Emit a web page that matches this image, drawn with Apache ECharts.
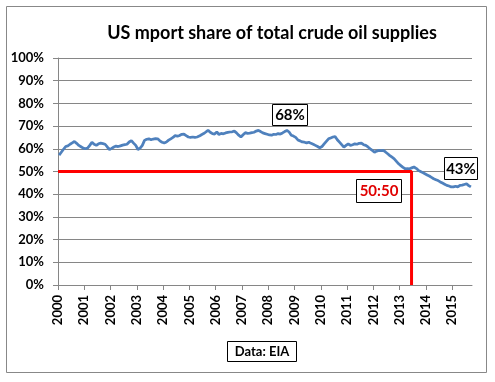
<!DOCTYPE html>
<html>
<head>
<meta charset="utf-8">
<script src="https://cdn.jsdelivr.net/npm/echarts@6/dist/echarts.min.js"></script>
<style>
html,body{margin:0;padding:0;background:#fff;}
#c{width:495px;height:382px;}
</style>
</head>
<body>
<div id="c"></div>
<script>
// ---- data ----
const startYear = 2000;
const yearTicks = [2000,2001,2002,2003,2004,2005,2006,2007,2008,2009,2010,2011,2012,2013,2014,2015];
// monthly import share (%), Jan 2000 .. Sep 2015
const share2000 = [57.2,58.5,59.8,61.0,61.3,62.0,62.6,63.2,62.4,61.5,60.9,60.3];
const share2001 = [60.0,60.3,61.5,62.9,62.0,61.5,62.2,62.5,62.3,62.0,60.8,59.7];
const share2002 = [60.2,60.8,61.2,61.0,61.3,61.6,61.8,62.0,63.0,63.6,62.5,61.5];
const share2003 = [59.7,60.3,61.5,63.7,64.2,64.4,64.0,64.3,64.5,64.4,63.5,62.9];
const share2004 = [62.6,63.0,63.8,64.4,65.0,65.9,65.5,65.9,66.4,66.5,65.8,65.2];
const share2005 = [65.0,65.2,65.0,65.2,65.6,66.2,66.7,67.4,68.2,67.3,66.7,66.5];
const share2006 = [67.4,66.3,66.8,66.6,67.0,67.2,67.4,67.5,67.8,67.0,66.0,65.2];
const share2007 = [66.2,67.1,66.8,66.9,67.1,67.3,67.8,68.1,67.6,67.0,66.7,66.4];
const share2008 = [66.1,66.0,66.4,66.3,66.7,66.5,67.0,67.6,68.1,67.4,66.0,65.6];
const share2009 = [65.0,63.9,63.5,63.0,62.9,62.6,62.9,62.4,62.0,61.5,61.0,60.4];
const share2010 = [61.0,62.2,63.3,64.4,64.8,65.2,65.4,64.0,62.9,61.8,60.7,61.5];
const share2011 = [62.2,61.5,61.8,62.2,62.0,62.4,62.5,61.8,61.5,60.8,60.0,59.3];
const share2012 = [58.5,59.0,59.3,59.2,59.3,58.6,57.8,57.0,56.3,55.6,54.5,53.4];
const share2013 = [52.6,51.8,51.2,51.3,51.2,51.6,52.0,51.4,50.5,50.0,49.5,49.0];
const share2014 = [48.5,48.0,47.4,46.8,46.4,46.0,45.4,44.9,44.4,43.9,43.6,43.2];
const share2015 = [43.2,43.5,43.2,43.9,44.0,44.3,44.6,43.8,43.2];
const parityLevel = 50;       // 50:50 line
const crossoverYear = 2013.45; // where share fell below 50%

const monthly = [].concat(share2000,share2001,share2002,share2003,share2004,share2005,
  share2006,share2007,share2008,share2009,share2010,share2011,share2012,share2013,share2014,share2015);
const seriesData = monthly.map((v,i)=>[startYear + (i+0.5)/12, v]);
const axisMax = startYear + monthly.length/12;

const FONT = 'Lato';
const chart = echarts.init(document.getElementById('c'), null, {renderer:'canvas'});
chart.setOption({
  animation:false,
  backgroundColor:'#fff',
  title:{
    text:'US mport share of total crude oil supplies',
    left:267, top:19, textAlign:'center',
    textStyle:{fontFamily:FONT,fontWeight:'bold',fontSize:18,color:'#000'}
  },
  grid:{left:58, top:58, right:23, bottom:97, containLabel:false},
  xAxis:{
    type:'value', min:startYear, max:axisMax,
    axisLine:{show:true,onZero:false,lineStyle:{color:'#868686',width:1}},
    axisTick:{show:true,length:5,customValues:yearTicks,lineStyle:{color:'#868686'}},
    axisLabel:{customValues:yearTicks,rotate:90,margin:10,color:'#000',
      fontFamily:FONT,fontWeight:'bold',fontSize:13,formatter:v=>String(v)},
    splitLine:{show:false}
  },
  yAxis:{
    type:'value', min:0, max:100, interval:10,
    axisLine:{show:true,lineStyle:{color:'#868686',width:1}},
    axisTick:{show:true,length:5,lineStyle:{color:'#868686'}},
    axisLabel:{formatter:'{value}%',margin:14,color:'#000',fontFamily:FONT,fontWeight:'bold',fontSize:13},
    splitLine:{show:true,lineStyle:{color:'#868686',width:1}}
  },
  series:[
    {
      type:'line', data:seriesData, showSymbol:false, symbol:'none',
      lineStyle:{color:'#4f81bd',width:2.75}, z:3
    },
    {
      type:'line', data:[[startYear,parityLevel],[crossoverYear,parityLevel],[crossoverYear,0]],
      showSymbol:false, symbol:'none', lineStyle:{color:'#ff0000',width:3}, z:4
    }
  ],
  graphic:[
    {type:'rect',shape:{x:6.5,y:6.5,width:480,height:366},style:{fill:null,stroke:'#888',lineWidth:1},silent:true},
    {type:'rect',shape:{x:272.5,y:104.5,width:35,height:21},style:{fill:'#fff',stroke:'#000',lineWidth:1},z:10},
    {type:'text',x:290,y:115,style:{text:'68%',fill:'#000',font:'bold 15px Lato',align:'center',verticalAlign:'middle'},z:11},
    {type:'rect',shape:{x:444.5,y:157.5,width:33,height:22},style:{fill:'#fff',stroke:'#000',lineWidth:1},z:10},
    {type:'text',x:461,y:169,style:{text:'43%',fill:'#000',font:'bold 15px Lato',align:'center',verticalAlign:'middle'},z:11},
    {type:'rect',shape:{x:356.5,y:179.5,width:45,height:23},style:{fill:'#fff',stroke:'#000',lineWidth:1},z:10},
    {type:'text',x:379,y:191,style:{text:'50:50',fill:'#e00000',font:'bold 15px Lato',align:'center',verticalAlign:'middle'},z:11},
    {type:'rect',shape:{x:227.5,y:341.5,width:69,height:20},style:{fill:'#fff',stroke:'#000',lineWidth:1},z:10},
    {type:'text',x:262,y:351.5,style:{text:'Data: EIA',fill:'#000',font:'bold 13px Lato',align:'center',verticalAlign:'middle'},z:11}
  ]
});
</script>
</body>
</html>
